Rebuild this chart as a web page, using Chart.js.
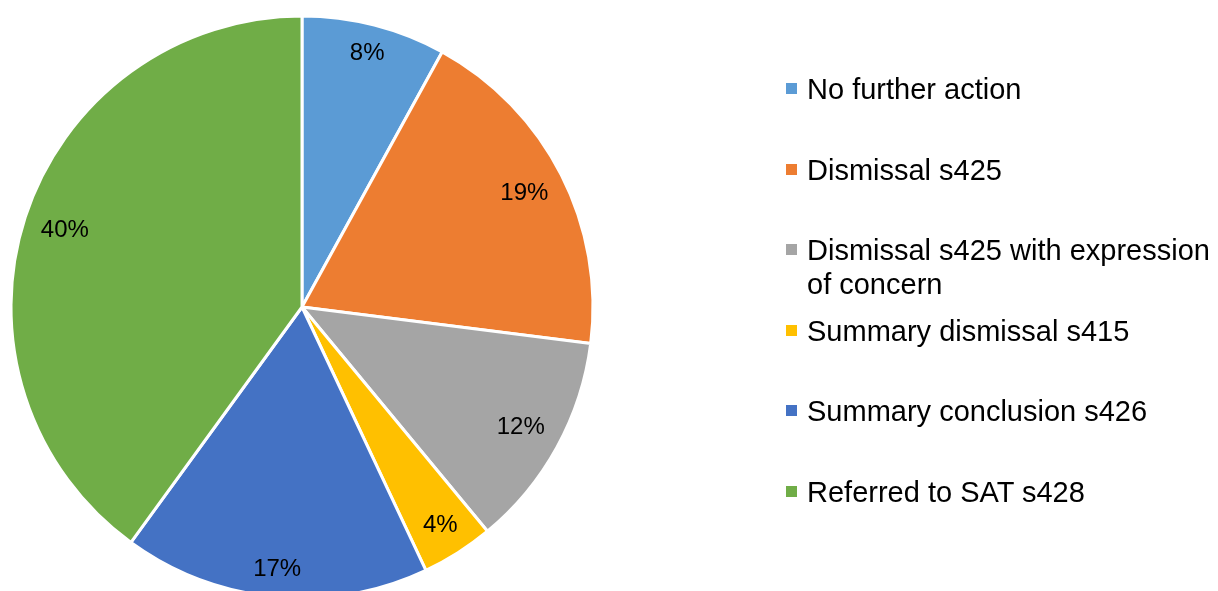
<!DOCTYPE html>
<html>
<head>
<meta charset="utf-8">
<script src="https://cdn.jsdelivr.net/npm/chart.js@4.4.0/dist/chart.umd.min.js"></script>
<style>
    body { margin: 0; background: #fff; overflow: hidden; }
    #wrap { position: relative; width: 1218px; height: 591px; }
    #pie { position: absolute; left: 0; top: 0; }
    #legend {
        position: absolute; left: 786px; top: 72px;
        font-family: "Liberation Sans", Arial, sans-serif;
        font-size: 29px; line-height: 34px; color: #000;
    }
    .item { display: flex; align-items: flex-start; height: 80.6px; }
    .box { width: 11px; height: 11px; margin-top: 11px; margin-right: 10px; flex: none; }
    .txt { width: 412px; }
</style>
</head>
<body>
<div id="wrap">
    <canvas id="pie" width="1218" height="591"></canvas>
    <div id="legend"></div>
</div>
<script>
    // data
    var categories = [
        "No further action",
        "Dismissal s425",
        "Dismissal s425 with expression of concern",
        "Summary dismissal s415",
        "Summary conclusion s426",
        "Referred to SAT s428"
    ];
    var shares = [8, 19, 12, 4, 17, 40];
    var colors = ["#5B9BD5", "#ED7D31", "#A5A5A5", "#FFC000", "#4472C4", "#70AD47"];


    // Legend
    var legend = document.getElementById('legend');
    categories.forEach(function (name, i) {
        var item = document.createElement('div');
        item.className = 'item';
        item.innerHTML = '<span class="box" style="background:' + colors[i] + '"></span>' +
            '<span class="txt">' + name + '</span>';
        legend.appendChild(item);
    });


    // Percent labels inside the slices
    var sliceLabels = {
        id: 'sliceLabels',
        afterDatasetsDraw: function (chart) {
            var ctx = chart.ctx;
            var meta = chart.getDatasetMeta(0);
            ctx.save();
            ctx.font = '24px "Liberation Sans", Arial, sans-serif';
            ctx.fillStyle = '#000';
            ctx.textAlign = 'center';
            ctx.textBaseline = 'middle';
            meta.data.forEach(function (arc, i) {
                var p = arc.getProps(['x', 'y', 'startAngle', 'endAngle', 'outerRadius'], true);
                var mid = (p.startAngle + p.endAngle) / 2;
                var text = shares[i] + '%';
                var hw = ctx.measureText(text).width / 2;
                var hh = 9;
                var dist = p.outerRadius - 16 - (hw * Math.abs(Math.cos(mid)) + hh * Math.abs(Math.sin(mid)));
                ctx.fillText(text, p.x + Math.cos(mid) * dist, p.y + Math.sin(mid) * dist);
            });
            ctx.restore();
        }
    };


    // Pie Chart
    var ctx1 = document.getElementById('pie').getContext('2d');
    var myChart1 = new Chart(ctx1, {
        type: 'pie',
        data: {
            labels: categories,
            datasets: [{
                data: shares,
                backgroundColor: colors,
                borderColor: '#ffffff',
                borderWidth: 3,
                clip: false
            }]
        },
        options: {
            responsive: false,
            animation: false,
            radius: 291,
            layout: { padding: { left: 0, right: 614, top: 23, bottom: 0 } },
            plugins: {
                legend: { display: false },
                tooltip: { enabled: false }
            }
        },
        plugins: [sliceLabels]
    });
</script>
</body>
</html>
